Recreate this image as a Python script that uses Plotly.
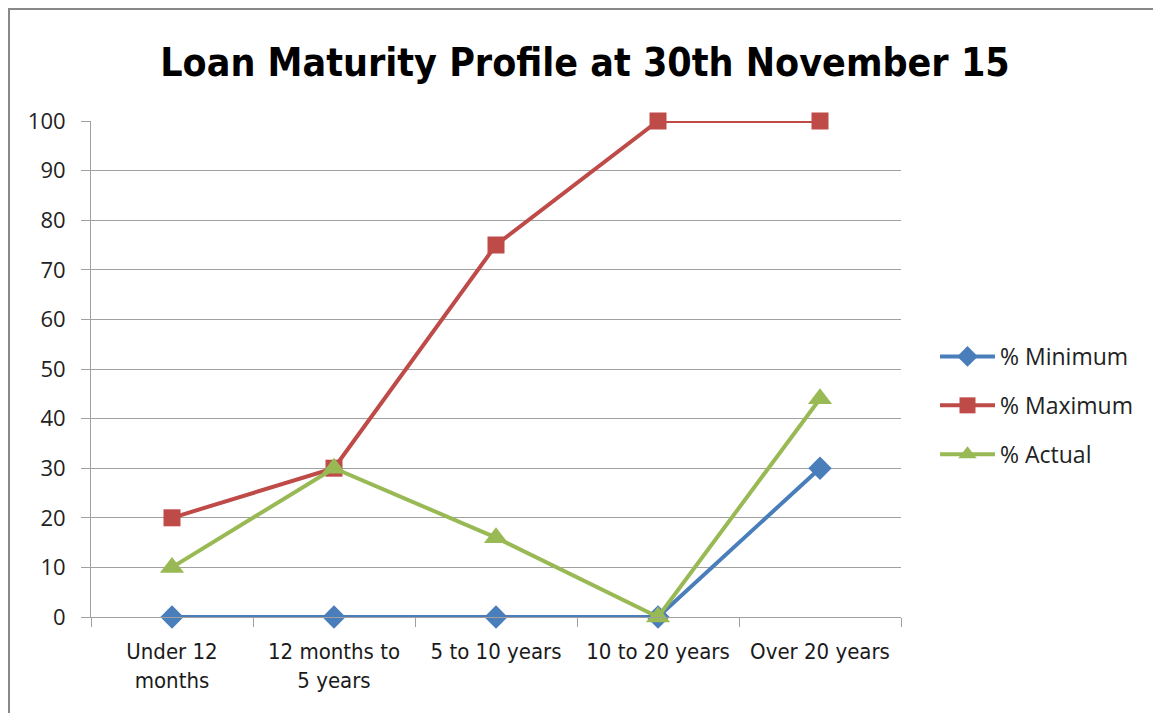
import plotly.graph_objects as go

categories = ["Under 12<br>months", "12 months to<br>5 years", "5 to 10 years", "10 to 20 years", "Over 20 years"]
minimum = [0, 0, 0, 0, 30]
maximum = [20, 30, 75, 100, 100]
actual = [10, 30, 16, 0, 44]
y_ticks = [0, 10, 20, 30, 40, 50, 60, 70, 80, 90, 100]

W, H = 1150, 705
L, R, T, B = 83, 257, 113, 96
PW = W - L - R
PH = H - T - B

fig = go.Figure()
fig.add_trace(go.Scatter(x=categories, y=minimum, name="% Minimum", mode="lines+markers",
                         line=dict(color="#4A7EBB", width=4),
                         marker=dict(symbol="diamond", size=18, color="#4A7EBB"),
                         legendgroup="a", cliponaxis=False))
fig.add_trace(go.Scatter(x=categories, y=maximum, name="% Maximum", mode="lines+markers",
                         line=dict(color="#BE4B48", width=4),
                         marker=dict(symbol="square", size=17, color="#BE4B48"),
                         legendgroup="b", cliponaxis=False))
fig.add_trace(go.Scatter(x=categories, y=actual, name="% Actual", mode="lines+markers",
                         line=dict(color="#98B954", width=4),
                         marker=dict(symbol="triangle-up", size=21, color="#98B954"),
                         legendgroup="c", cliponaxis=False))

fig.update_layout(
    width=W, height=H,
    margin=dict(l=L, r=R, t=T, b=B),
    paper_bgcolor="white", plot_bgcolor="white",
    title=dict(text="<b>Loan Maturity Profile at 30th November 15</b>",
               x=577/W, xanchor="center", y=1-54/H, yanchor="middle",
               font=dict(family="DejaVu Sans Condensed", size=39, color="black")),
    legend=dict(x=(927-L)/PW, xanchor="left", y=(609-327)/PH, yanchor="top",
                font=dict(family="Open Sans", size=23, color="#222222"),
                traceorder="grouped", tracegroupgap=16, itemwidth=55,
                bgcolor="rgba(0,0,0,0)"),
    showlegend=True,
)
fig.update_xaxes(type="category", tickson="boundaries", ticks="outside", ticklen=9,
                 tickcolor="#A0A0A0", showline=True, linecolor="#A0A0A0", linewidth=1,
                 showgrid=False, range=[-0.5, 4.5], ticklabelstandoff=15,
                 tickfont=dict(family="DejaVu Sans Condensed", size=22, color="#1a1a1a"))
fig.update_yaxes(range=[0, 100], tickvals=y_ticks, ticks="outside", ticklen=9,
                 tickcolor="#A0A0A0", showline=True, linecolor="#A0A0A0", linewidth=1,
                 showgrid=True, gridcolor="#A0A0A0", gridwidth=1, zeroline=False,
                 ticklabelstandoff=11,
                 tickfont=dict(family="Open Sans", size=22, color="#222222"))

# outer chart border
fig.add_shape(type="rect", xref="paper", yref="paper",
              x0=(1-L)/PW, x1=(W-1-L)/PW, y0=(PH+T-H-20)/PH, y1=(PH+T-1)/PH,
              line=dict(color="#888888", width=2), fillcolor="rgba(0,0,0,0)", layer="below")

fig.write_html("out.html", config={"displayModeBar": False})
